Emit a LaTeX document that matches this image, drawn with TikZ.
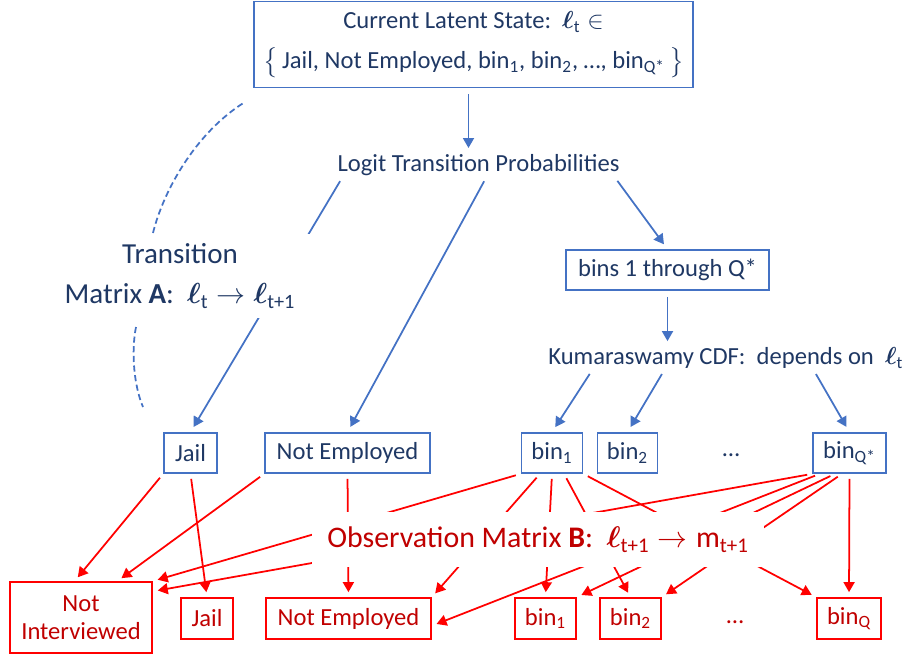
\documentclass[tikz,border=0pt]{standalone}
\usepackage{fix-cm,amsmath,fontspec,xcolor,tikz}
\setmainfont{Carlito}
\usetikzlibrary{arrows.meta}
\definecolor{lineblue}{HTML}{4472C4}
\definecolor{txtblue}{HTML}{1F3864}
\definecolor{linered}{HTML}{FF0000}
\definecolor{txtred}{HTML}{C00000}
\newcommand{\lt}[1]{\boldsymbol{\ell}_{\text{#1}}}
\tikzset{hid/.style={draw=lineblue,line width=1pt,text=txtblue,inner sep=0pt,minimum height=8mm,font=\fontsize{14}{16}\selectfont},obs/.style={draw=linered,line width=1pt,text=txtred,inner sep=0pt,minimum height=8.2mm,font=\fontsize{14}{16}\selectfont},barrow/.style={-{Triangle[length=2mm,width=2.2mm]},draw=lineblue,line width=1pt,shorten <=1.2mm,shorten >=1.2mm},rarrow/.style={-{Triangle[length=2mm,width=2.2mm]},draw=linered,line width=1pt,shorten <=1mm,shorten >=1mm},lab/.style={text=txtblue,inner sep=0pt,font=\fontsize{14}{16}\selectfont}}

\begin{document}
\begin{tikzpicture}[x=0.02cm,y=-0.02cm,big/.style={fill=white,inner xsep=3mm,inner ysep=2mm,align=center},dasharc/.style={draw=lineblue,line width=1pt,dash pattern=on 3.5pt off 2pt}]
\useasboundingbox (0,0) rectangle (905,656);
\node[hid,minimum width=87.8mm,minimum height=17.2mm,align=center,font=\fontsize{14}{23}\selectfont] (top) at (473.5,44.5) {Current Latent State:\ \ $\lt{t}\in$\\$\big\{$\,Jail, Not Employed, bin\textsubscript{1}, bin\textsubscript{2}, …, bin\textsubscript{Q*}\,$\big\}$};
\node[lab] (logit) at (478.5,165) {Logit Transition Probabilities};
\node[hid,minimum width=40.6mm] (bins) at (667.5,270) {bins 1 through Q*};
\node[lab,anchor=west] (kuma) at (548,358) {Kumaraswamy CDF:\ \ depends on\ \ $\lt{t}$};
\node[hid,minimum width=10.6mm] (jh) at (190.5,453) {Jail};
\node[hid,minimum width=33mm] (nh) at (347.5,453) {Not Employed};
\node[hid,minimum width=12.2mm] (b1h) at (552,453) {bin\textsubscript{1}};
\node[hid,minimum width=12mm] (b2h) at (627.5,453) {bin\textsubscript{2}};
\node[lab] (hdots) at (731,455) {…};
\node[hid,minimum width=14.6mm] (bqh) at (849.5,453) {bin\textsubscript{Q*}};
\node[obs,minimum width=28.4mm,minimum height=14.2mm,align=center] (nio) at (81,617.5) {Not\\Interviewed};
\node[obs,minimum width=10.4mm] (jo) at (207,618.5) {Jail};
\node[obs,minimum width=33mm] (no) at (348.5,618.5) {Not Employed};
\node[obs,minimum width=12.2mm] (b1o) at (545.5,618.5) {bin\textsubscript{1}};
\node[obs,minimum width=12.2mm] (b2o) at (630.5,618.5) {bin\textsubscript{2}};
\node[lab,text=txtred] (odots) at (735,622) {…};
\node[obs,minimum width=12.8mm] (bqo) at (849,618.5) {bin\textsubscript{Q}};
\draw[barrow] ([xshift=-1mm]top.south) -- ([xshift=-1mm]top.south |- logit.north);
\draw[barrow] ([xshift=1.2mm]logit.south west) -- (jh.north);
\draw[barrow] ([xshift=1.7mm]logit.south) -- (nh.north);
\draw[barrow] ([xshift=-1.2mm]logit.south east) -- (bins.north);
\draw[barrow] (bins.south) -- (bins.south |- kuma.north);
\draw[barrow] ([xshift=9mm]kuma.south west) -- (b1h.north);
\draw[barrow] ([xshift=23.4mm]kuma.south west) -- (b2h.north);
\draw[barrow] ([xshift=53mm]kuma.south west) -- (bqh.north);
\foreach \a/\b in {jh.south west/nio.100,jh.south/jo.north,nh.south west/nio.45,nh.south/no.north,b1h.south west/nio.north east,b1h.-120/no.north east,b1h.south/b1o.north,b1h.-60/b2o.north,b1h.south east/bqo.north west,bqh.south west/nio.20,bqh.-145/no.-5,bqh.-125/b1o.north east,bqh.-110/b2o.north east,bqh.south/bqo.north}{\draw[rarrow] (\a) -- (\b);}
\node[big,text=txtblue,font=\fontsize{16.5}{22.7}\selectfont] (trans) at (180,276) {Transition\\Matrix \textbf{A}:\ \ $\lt{t}\rightarrow\lt{t+1}$};
\node[big,text=txtred,font=\fontsize{17}{20}\selectfont,minimum width=89.6mm,minimum height=11mm] (obsl) at (538,539.5) {Observation Matrix \textbf{B}:\ \ $\lt{t+1}\rightarrow\text{m}_{\text{t+1}}$};
\draw[dasharc] (153,233) .. controls (163,192) and (195,133) .. (245,102);
\draw[dasharc] (136,327) .. controls (131,352) and (134,386) .. (143,407);
\end{tikzpicture}
\end{document}
